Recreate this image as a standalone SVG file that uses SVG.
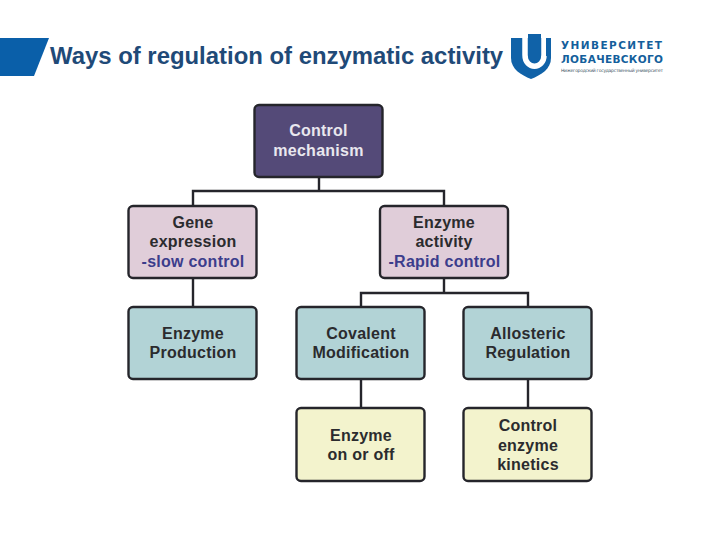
<svg xmlns="http://www.w3.org/2000/svg" width="720" height="540" viewBox="0 0 720 540">
  <style>
    text { font-family: "Liberation Sans", Arial, sans-serif; font-weight: bold; text-anchor: middle; }
    .box { stroke: #25252b; stroke-width: 2.4; }
    .lbl { font-size: 16px; letter-spacing: 0.25px; fill: #2b2b2e; }
    .light { fill: #e9e7ee; }
    .blue { fill: #3c3d8c; }
    .purple { fill: #544a78; }
    .pink { fill: #e0cdd9; }
    .teal { fill: #b2d3d6; }
    .yellow { fill: #f3f3cd; }
    .conn { fill: none; stroke: #25252b; stroke-width: 2.4; }
    .logo { font-family: "DejaVu Sans", sans-serif; text-anchor: start; fill: #145f9c; }
  </style>
  <rect width="720" height="540" fill="#ffffff"/>

  <g id="title-band">
    <polygon points="0,38 49,38 34,76 0,76" fill="#0a5fa9"/>
    <text x="50" y="64" font-size="23.9" style="text-anchor:start" fill="#1f4a78">Ways of regulation of enzymatic activity</text>
  </g>

  <g id="logo">
    <path d="M511,38 H551 V58 C551,69 541,75 531,79 C521,75 511,69 511,58 Z" fill="#1062a8"/>
    <path d="M525,35 V55 C525,70 544,70 544,55 V35" fill="none" stroke="#ffffff" stroke-width="5.500"/>
    <path d="M528,34 H541 V54 C541,65 528,65 528,54 Z" fill="#1062a8"/>
    <rect x="546" y="38" width="5" height="18" fill="#1062a8"/>
    <text class="logo" x="561" y="49" font-size="10.500" textLength="101" lengthAdjust="spacing">УНИВЕРСИТЕТ</text>
    <text class="logo" x="561" y="62.500" font-size="10.500" textLength="102" lengthAdjust="spacing">ЛОБАЧЕВСКОГО</text>
    <text class="logo" x="561" y="72" font-size="4.500" style="font-weight:normal;fill:#3d5566" textLength="102" lengthAdjust="spacing">Нижегородский государственный университет</text>
  </g>

  <g id="connectors">
    <path class="conn" d="M319,177 V191 M193,206 V191 H444 V206"/>
    <path class="conn" d="M193,278 V307"/>
    <path class="conn" d="M444,278 V293 M361,307 V293 H528 V307"/>
    <path class="conn" d="M361,379 V408"/>
    <path class="conn" d="M528,379 V408"/>
  </g>

  <g id="control-mechanism">
    <rect class="box purple" x="254.500" y="105" width="128" height="72" rx="4.500"/>
    <text class="lbl light" x="318.500" y="136">Control</text>
    <text class="lbl light" x="318.500" y="156">mechanism</text>
  </g>
  <g id="gene-expression">
    <rect class="box pink" x="128.500" y="206" width="128" height="72" rx="4.500"/>
    <text class="lbl" x="193" y="228">Gene</text>
    <text class="lbl" x="193" y="247">expression</text>
    <text class="lbl blue" x="193" y="267">-slow control</text>
  </g>
  <g id="enzyme-activity">
    <rect class="box pink" x="380" y="206" width="128" height="72" rx="4.500"/>
    <text class="lbl" x="444" y="228">Enzyme</text>
    <text class="lbl" x="444" y="247">activity</text>
    <text class="lbl blue" x="444.500" y="267">-Rapid control</text>
  </g>
  <g id="enzyme-production">
    <rect class="box teal" x="128.500" y="307" width="128" height="72" rx="4.500"/>
    <text class="lbl" x="193" y="339">Enzyme</text>
    <text class="lbl" x="193" y="358">Production</text>
  </g>
  <g id="covalent-modification">
    <rect class="box teal" x="296.500" y="307" width="128" height="72" rx="4.500"/>
    <text class="lbl" x="361" y="339">Covalent</text>
    <text class="lbl" x="361" y="358">Modification</text>
  </g>
  <g id="allosteric-regulation">
    <rect class="box teal" x="463.500" y="307" width="128" height="72" rx="4.500"/>
    <text class="lbl" x="528" y="339">Allosteric</text>
    <text class="lbl" x="528" y="358">Regulation</text>
  </g>
  <g id="enzyme-on-off">
    <rect class="box yellow" x="296.500" y="408" width="128" height="73" rx="4.500"/>
    <text class="lbl" x="361" y="441">Enzyme</text>
    <text class="lbl" x="361" y="460">on or off</text>
  </g>
  <g id="control-kinetics">
    <rect class="box yellow" x="463.500" y="408" width="128" height="73" rx="4.500"/>
    <text class="lbl" x="528" y="431">Control</text>
    <text class="lbl" x="528" y="451">enzyme</text>
    <text class="lbl" x="528" y="470">kinetics</text>
  </g>
</svg>
